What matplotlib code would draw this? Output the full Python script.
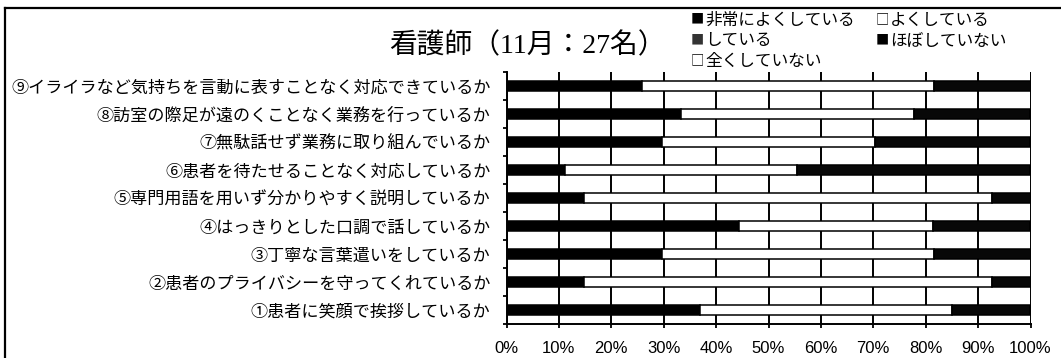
import matplotlib
matplotlib.use("Agg")
import matplotlib.pyplot as plt
from matplotlib.lines import Line2D
import numpy as np

plt.rcParams['font.family'] = ['Noto Sans CJK JP', 'DejaVu Sans']

# Data (percent of 27 respondents), bottom-to-top order
categories = [
    "①患者に笑顔で挨拶しているか",
    "②患者のプライバシーを守ってくれているか",
    "③丁寧な言葉遣いをしているか",
    "④はっきりとした口調で話しているか",
    "⑤専門用語を用いず分かりやすく説明しているか",
    "⑥患者を待たせることなく対応しているか",
    "⑦無駄話せず業務に取り組んでいるか",
    "⑧訪室の際足が遠のくことなく業務を行っているか",
    "⑨イライラなど気持ちを言動に表すことなく対応できているか",
]
series_names = ["非常によくしている", "よくしている", "している", "ほぼしていない", "全くしていない"]
very_good = [37.0, 14.8, 29.6, 44.4, 14.8, 11.1, 29.6, 33.3, 25.9]
good      = [48.1, 77.8, 51.9, 37.0, 77.8, 44.4, 40.7, 44.4, 55.6]
doing     = [14.8, 7.4, 18.5, 18.5, 7.4, 44.4, 29.6, 22.2, 18.5]
hardly    = [0, 0, 0, 0, 0, 0, 0, 0, 0]
never     = [0, 0, 0, 0, 0, 0, 0, 0, 0]
xtick_labels = ["0%", "10%", "20%", "30%", "40%", "50%", "60%", "70%", "80%", "90%", "100%"]
title = "看護師（11月：27名）"

series = [very_good, good, doing, hardly, never]
colors = ["#000000", "#ffffff", "#080808", "#000000", "#ffffff"]

W, H = 1061, 358
fig = plt.figure(figsize=(W / 100, H / 100), dpi=100)
ax = fig.add_axes([506.5 / W, 1 - 324 / H, (1030.5 - 506.5) / W, (324 - 72) / H])

y = np.arange(len(categories))
left = np.zeros(len(categories))
for vals, c in zip(series, colors):
    v = np.array(vals, dtype=float)
    ax.barh(y, v, left=left, height=0.38, color=c, edgecolor="black", linewidth=1.1, zorder=3)
    left += v

ax.set_xlim(0, 100)
ax.set_ylim(-0.5, len(categories) - 0.5)
ax.set_xticks(np.arange(0, 101, 10))
ax.set_xticklabels(xtick_labels, family=['Liberation Sans'], fontsize=12)
ax.set_yticks(y)
ax.set_yticklabels(categories, fontsize=12.3)
ax.set_yticks(np.arange(-0.5, len(categories), 1.0), minor=True)
ax.tick_params(axis='y', which='major', length=0, pad=11.5)
ax.tick_params(axis='y', which='minor', length=3, width=1.3, direction='out')
ax.tick_params(axis='x', which='major', length=3, width=1.3, direction='out', pad=9)
ax.xaxis.grid(True, color='black', linewidth=1.4, zorder=0)
ax.set_axisbelow(True)
for s in ['top', 'right']:
    ax.spines[s].set_visible(False)
for s in ['left', 'bottom']:
    ax.spines[s].set_linewidth(1.4)

# Title
fig.text(527 / W, 1 - 46 / H, title, ha='center', va='center', fontsize=20,
         family=['Liberation Serif', 'Noto Sans CJK JP'])

# Legend
leg_items = [
    (697, 20, "■", "#000000", series_names[0]),
    (882, 20, "□", "#000000", series_names[1]),
    (697, 41, "■", "#333333", series_names[2]),
    (882, 41, "■", "#000000", series_names[3]),
    (697, 61, "□", "#000000", series_names[4]),
]
for x0, y0, mk, mc, name in leg_items:
    fig.text(x0 / W, 1 - y0 / H, mk, ha='center', va='center', fontsize=9.5, color=mc)
    fig.text((x0 + 8) / W, 1 - y0 / H, name, ha='left', va='center', fontsize=12)

# Outer frame (top and left lines)
fig.add_artist(Line2D([5 / W, 1.0], [1 - 8 / H, 1 - 8 / H], color='black', linewidth=1.6))
fig.add_artist(Line2D([5 / W, 5 / W], [0.0, 1 - 8 / H], color='black', linewidth=1.6))

fig.savefig("out.png", dpi=100, facecolor='white')
